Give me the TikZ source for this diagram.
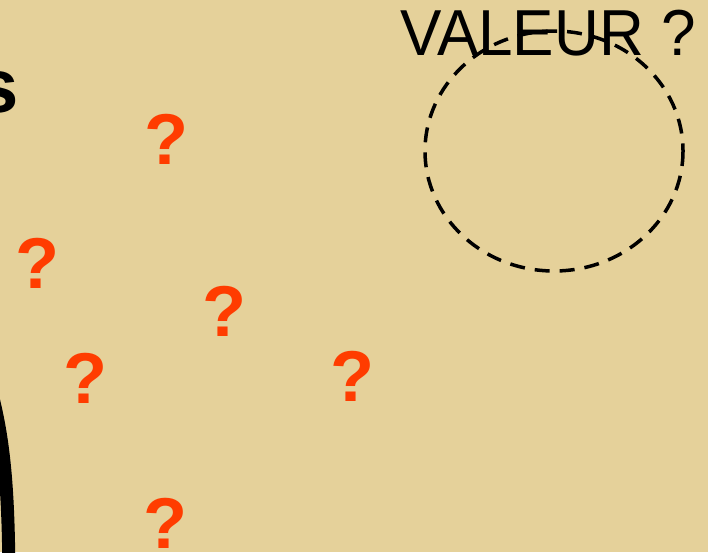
\documentclass[tikz,border=0pt]{standalone}
\usepackage{fontspec}
\setmainfont{Liberation Sans}
\definecolor{bg}{HTML}{E5D19A}
\definecolor{qred}{HTML}{FF3C00}
\begin{document}
\begin{tikzpicture}[x=1pt,y=-1pt,
  qmark/.style={inner sep=0pt,text=qred,font=\fontsize{72}{72}\selectfont\bfseries},
  lbl/.style={inner sep=0pt,anchor=base west}]
\fill[bg] (0,0) rectangle (708,552);
\useasboundingbox (0,0) rectangle (708,552);
\begin{scope}
\clip (0,0) rectangle (708,552);
% dashed circle
\draw[line width=3.5pt,dash pattern=on 15pt off 10pt] (554,151) ellipse [x radius=129,y radius=120];
\node[lbl,font=\fontsize{65}{65}\selectfont,xscale=0.955] (val) at (400,55) {VALEUR ?};
\node[lbl,font=\fontsize{76}{76}\selectfont\bfseries] (s) at (-24,112) {s};
% thick arc
\draw[line width=13pt] (-12,380) .. controls (6,440) and (9,500) .. (9,600);
\end{scope}
\node[qmark] (q1) at (166,139) {?};
\node[qmark] (q2) at (37,263) {?};
\node[qmark] (q3) at (224,311) {?};
\node[qmark] (q4) at (85,378) {?};
\node[qmark] (q5) at (352,376) {?};
\node[qmark] (q6) at (165,523) {?};
\end{tikzpicture}
\end{document}
